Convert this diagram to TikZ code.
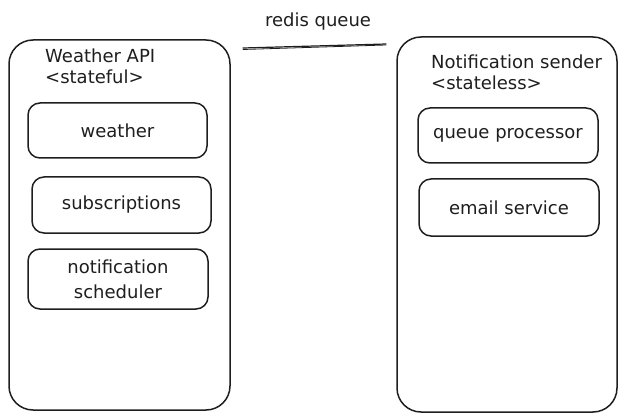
\documentclass[tikz,border=0pt]{standalone}
\usepackage{fontspec}
\setmainfont{DejaVu Sans}
\definecolor{ink}{HTML}{1E1E1E}
\begin{document}
\begin{tikzpicture}[x=1pt,y=-1pt,
  container/.style={draw=ink, line width=1.5pt, rounded corners=24pt, inner sep=0pt},
  inner/.style={draw=ink, line width=1.5pt, rounded corners=12pt, inner sep=0pt, text=ink, font=\fontsize{18}{25}\selectfont, align=center},
  lbl/.style={text=ink, font=\fontsize{18}{22}\selectfont, inner sep=0pt, align=left},
  queueline/.style={draw=ink, line width=1.2pt, line cap=round}]
\useasboundingbox (0,0) rectangle (625,420);
% containers
\node[container, minimum width=221pt, minimum height=370pt] (api) at (119.5,225) {};
\node[container, minimum width=220pt, minimum height=375pt] (sender) at (507,224.5) {};
% titles
\node[lbl, anchor=west] (apititle) at (45,56) {Weather API};
\node[lbl, anchor=west] (apistate) at (45,77) {<stateful>};
\node[lbl, anchor=west] (sendtitle) at (431,62) {Notification sender};
\node[lbl, anchor=west] (sendstate) at (431,83) {<stateless>};
% inner boxes left
\node[inner, minimum width=179pt, minimum height=55pt] (weather) at (117.5,130.5) {weather};
\node[inner, minimum width=179pt, minimum height=56pt] (subs) at (121.5,205) {subscriptions};
\node[inner, minimum width=180pt, minimum height=60pt] (sched) at (118,279) {notification\\scheduler};
% inner boxes right
\node[inner, minimum width=180pt, minimum height=55pt] (qproc) at (508,135.5) {queue processor};
\node[inner, minimum width=180pt, minimum height=57pt] (email) at (509,207.5) {email service};
% redis queue
\node[lbl] (redis) at (318,22) {redis queue};
\coordinate (rqa) at (243,48);
\coordinate (rqb) at (386,44);
\draw[queueline] (rqa) -- (rqb);
\draw[queueline, line width=0.8pt] ([yshift=-1.5pt]rqa) -- ([yshift=-1pt]rqb);
\end{tikzpicture}
\end{document}
